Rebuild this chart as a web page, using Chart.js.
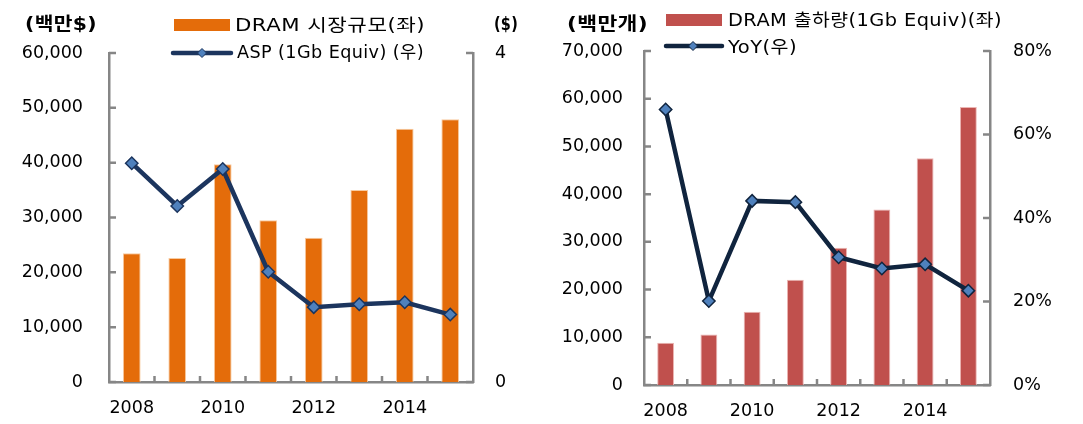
<!DOCTYPE html>
<html>
<head>
<meta charset="utf-8">
<script src="https://cdn.jsdelivr.net/npm/chart.js@4/dist/chart.umd.min.js"></script>
<style>
  html, body { margin:0; padding:0; background:#fff; }
  body { width:1083px; height:424px; position:relative; overflow:hidden;
         font-family:'DejaVu Sans','Noto Sans CJK KR',sans-serif; color:#000; }
  canvas { position:absolute; top:0; }
  .t { position:absolute; line-height:1; white-space:nowrap; transform-origin:0 50%; }
  .title { font-weight:bold; font-size:18px; letter-spacing:0.3px; }
  .leg { font-size:17.5px; letter-spacing:0.4px; }
  .sw { position:absolute; }
</style>
</head>
<body>
<canvas id="c1" width="540" height="424" style="left:0"></canvas>
<canvas id="c2" width="543" height="424" style="left:540px"></canvas>

<div class="t title fit" data-w="72" style="left:25px;top:24px">(백만$)</div>
<div class="t title fit" data-w="24" style="left:494px;top:24px">($)</div>
<div class="sw" style="left:174px;top:19px;width:56px;height:12px;background:#E46C0A"></div>
<div class="t leg fit" data-w="190" style="left:235px;top:26px">DRAM 시장규모(좌)</div>
<svg class="sw" style="left:170px;top:45px" width="64" height="16"><line x1="3" y1="8" x2="61" y2="8" stroke="#1C355E" stroke-width="4.5" stroke-linecap="round"/><polygon points="32,3.5 36.5,8 32,12.5 27.5,8" fill="#4F81BD" stroke="#1C355E" stroke-width="1"/></svg>
<div class="t leg fit" data-w="187" style="left:237px;top:53px">ASP (1Gb Equiv) (우)</div>

<div class="t title fit" data-w="81" style="left:567px;top:24px">(백만개)</div>
<div class="sw" style="left:666px;top:14px;width:56px;height:12px;background:#C0504D"></div>
<div class="t leg fit" data-w="274" style="left:728px;top:21px">DRAM 출하량(1Gb Equiv)(좌)</div>
<svg class="sw" style="left:663px;top:38px" width="62" height="16"><line x1="3" y1="8" x2="59" y2="8" stroke="#10243E" stroke-width="4.5" stroke-linecap="round"/><polygon points="30,3.5 34.5,8 30,12.5 25.5,8" fill="#4F81BD" stroke="#10243E" stroke-width="1"/></svg>
<div class="t leg fit" data-w="69" style="left:728px;top:48px">YoY(우)</div>

<script>
// ---- data ----
const years = ['2008','2009','2010','2011','2012','2013','2014','2015'];
const dramMarket = [23500, 22600, 39700, 29500, 26300, 35000, 46200, 47900];   // 백만$
const aspPrice = [2.66, 2.14, 2.59, 1.34, 0.91, 0.945, 0.97, 0.82];            // $
const dramShipments = [8850, 10600, 15350, 22050, 28750, 36800, 47500, 58250]; // 백만개
const shipmentYoY = [66.0, 20.1, 44.1, 43.8, 30.6, 27.9, 28.9, 22.6];          // %

// stretch legend/title text horizontally to the reference widths
document.querySelectorAll('.fit').forEach(el => {
  const target = +el.dataset.w;
  const w = el.getBoundingClientRect().width;
  el.style.transform = 'translateY(-50%) scaleX(' + (target / w).toFixed(3) + ')';
});

const AXIS = '#868686';
const FONT = "'DejaVu Sans','Noto Sans CJK KR',sans-serif";
Chart.defaults.font.family = FONT;
Chart.defaults.font.size = 17.5;
Chart.defaults.color = '#000';

const inwardTicks = {
  id: 'inwardTicks',
  afterDatasetsDraw(chart) {
    const ctx = chart.ctx;
    const {left, right, bottom} = chart.chartArea;
    ctx.save();
    ctx.strokeStyle = AXIS;
    ctx.lineWidth = 2.5;
    ctx.beginPath();
    const x = chart.scales.x;
    for (let i = 1; i < x.ticks.length; i++) {
      const px = (x.getPixelForTick(i - 1) + x.getPixelForTick(i)) / 2;
      ctx.moveTo(px, bottom); ctx.lineTo(px, bottom - 6);
    }
    const y = chart.scales.y;
    y.ticks.forEach((t, i) => { const py = y.getPixelForTick(i); ctx.moveTo(left, py); ctx.lineTo(left + 7, py); });
    const y2 = chart.scales.y2;
    y2.ticks.forEach((t, i) => { const py = y2.getPixelForTick(i); ctx.moveTo(right, py); ctx.lineTo(right - 7, py); });
    ctx.stroke();
    ctx.restore();
  }
};

function makeChart(id, cfg) {
  const fmt = v => v.toLocaleString('en-US');
  return new Chart(document.getElementById(id), {
    data: {
      labels: years,
      datasets: [
        { type: 'line', data: cfg.lineData, yAxisID: 'y2', order: 0,
          borderColor: cfg.lineColor, borderWidth: 4.5, tension: 0,
          pointStyle: 'rectRot', pointRadius: 6.2, pointBackgroundColor: '#4F81BD',
          pointBorderColor: cfg.lineColor, pointBorderWidth: 1.5 },
        { type: 'bar', data: cfg.barData, yAxisID: 'y', order: 1,
          backgroundColor: cfg.barColor, borderColor: cfg.barEdge, borderWidth: 1,
          categoryPercentage: 1, barPercentage: 0.39 }
      ]
    },
    options: {
      responsive: false, animation: false, devicePixelRatio: 1,
      layout: { padding: { top: cfg.top, left: 0, right: 0, bottom: 0 } },
      plugins: { legend: { display: false }, tooltip: { enabled: false } },
      scales: {
        x: {
          grid: { display: false, drawTicks: false },
          border: { display: true, color: AXIS, width: 2.5 },
          ticks: { autoSkip: false, maxRotation: 0, padding: cfg.xPad,
                   callback: (v, i) => (i % 2 === 0 ? years[i] : '') },
          afterFit: s => { s.height = cfg.xH; s.paddingLeft = 0; s.paddingRight = 0; }
        },
        y: {
          position: 'left', min: 0, max: cfg.yMax,
          grid: { display: false, drawTicks: false },
          border: { display: true, color: AXIS, width: 2.5 },
          ticks: { stepSize: 10000, padding: cfg.yPad, callback: v => fmt(v) },
          afterFit: s => { s.width = cfg.yW; s.paddingTop = 0; s.paddingBottom = 0; }
        },
        y2: {
          position: 'right', min: 0, max: cfg.y2Max,
          grid: { display: false, drawTicks: false },
          border: { display: true, color: AXIS, width: 2.5 },
          ticks: { stepSize: cfg.y2Step, padding: cfg.y2Pad, callback: cfg.y2Fmt },
          afterFit: s => { s.width = cfg.y2W; s.paddingTop = 0; s.paddingBottom = 0; }
        }
      }
    },
    plugins: [inwardTicks]
  });
}

makeChart('c1', {
  lineData: aspPrice, barData: dramMarket,
  lineColor: '#1C355E', barColor: '#E46C0A', barEdge: '#F8CBA0',
  top: 53, xH: 42, xPad: 16, yW: 109, yPad: 26, yMax: 60000,
  y2W: 67, y2Pad: 22, y2Max: 4, y2Step: 4, y2Fmt: v => String(v)
});

makeChart('c2', {
  lineData: shipmentYoY, barData: dramShipments,
  lineColor: '#10243E', barColor: '#C0504D', barEdge: '#EBB5B3',
  top: 51, xH: 39, xPad: 16, yW: 104, yPad: 21, yMax: 70000,
  y2W: 93, y2Pad: 23, y2Max: 80, y2Step: 20, y2Fmt: v => v + '%'
});
</script>
</body>
</html>
